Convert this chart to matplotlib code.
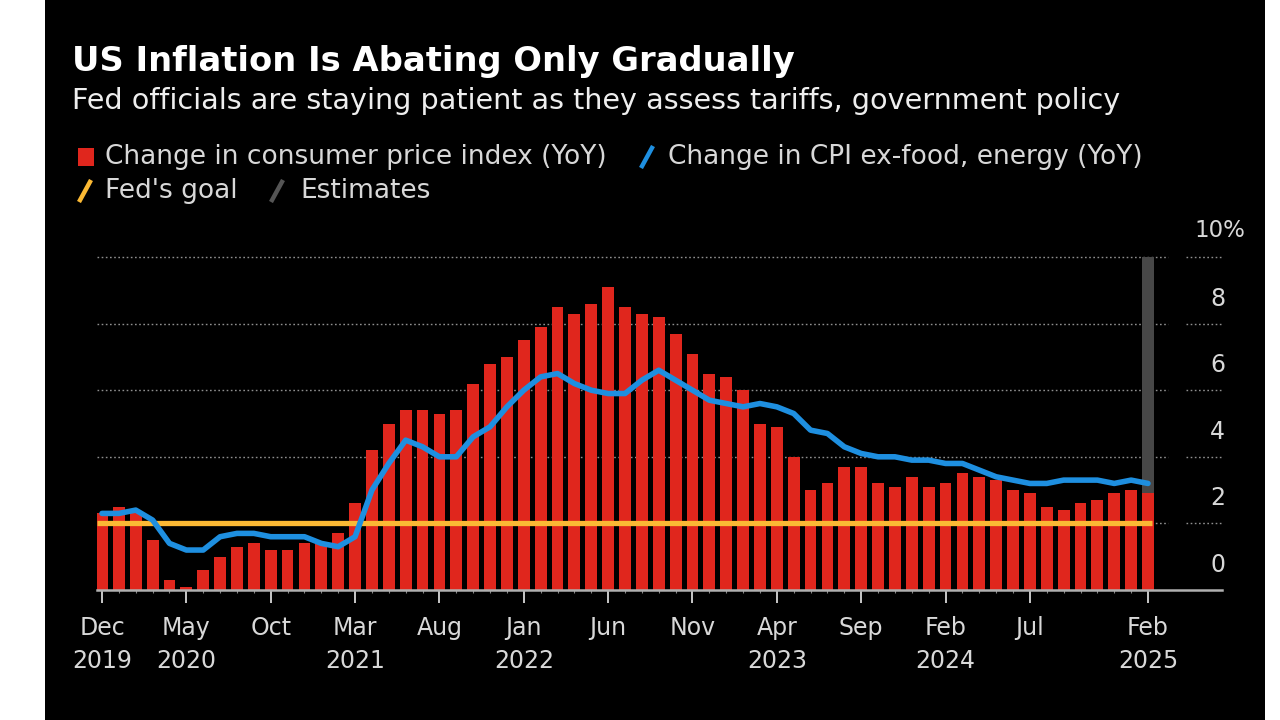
import matplotlib
matplotlib.use("Agg")
import matplotlib.pyplot as plt
import numpy as np
from matplotlib.patches import Rectangle
from matplotlib.lines import Line2D

# ---- data (Dec 2019 .. Feb 2025, monthly) ----
months = ["Dec 2019"] + [f"{m} {y}" for y in range(2020, 2025) for m in
          ["Jan", "Feb", "Mar", "Apr", "May", "Jun", "Jul", "Aug", "Sep", "Oct", "Nov", "Dec"]] + ["Jan 2025", "Feb 2025"]
cpi = [2.3,
       2.5, 2.3, 1.5, 0.3, 0.1, 0.6, 1.0, 1.3, 1.4, 1.2, 1.2, 1.4,
       1.4, 1.7, 2.6, 4.2, 5.0, 5.4, 5.4, 5.3, 5.4, 6.2, 6.8, 7.0,
       7.5, 7.9, 8.5, 8.3, 8.6, 9.1, 8.5, 8.3, 8.2, 7.7, 7.1, 6.5,
       6.4, 6.0, 5.0, 4.9, 4.0, 3.0, 3.2, 3.7, 3.7, 3.2, 3.1, 3.4,
       3.1, 3.2, 3.5, 3.4, 3.3, 3.0, 2.9, 2.5, 2.4, 2.6, 2.7, 2.9,
       3.0, 2.9]
core = [2.3,
        2.3, 2.4, 2.1, 1.4, 1.2, 1.2, 1.6, 1.7, 1.7, 1.6, 1.6, 1.6,
        1.4, 1.3, 1.6, 3.0, 3.8, 4.5, 4.3, 4.0, 4.0, 4.6, 4.9, 5.5,
        6.0, 6.4, 6.5, 6.2, 6.0, 5.9, 5.9, 6.3, 6.6, 6.3, 6.0, 5.7,
        5.6, 5.5, 5.6, 5.5, 5.3, 4.8, 4.7, 4.3, 4.1, 4.0, 4.0, 3.9,
        3.9, 3.8, 3.8, 3.6, 3.4, 3.3, 3.2, 3.2, 3.3, 3.3, 3.3, 3.2,
        3.3, 3.2]
fed_goal = 2.0
estimate_months = ["Feb 2025"]
estimate_top = 10.0
tick_months = ["Dec 2019", "May 2020", "Oct 2020", "Mar 2021", "Aug 2021", "Jan 2022",
               "Jun 2022", "Nov 2022", "Apr 2023", "Sep 2023", "Feb 2024", "Jul 2024", "Feb 2025"]
tick_labels = ["Dec\n2019", "May\n2020", "Oct", "Mar\n2021", "Aug", "Jan\n2022",
               "Jun", "Nov", "Apr\n2023", "Sep", "Feb\n2024", "Jul", "Feb\n2025"]
y_ticks = [0, 2, 4, 6, 8, 10]

RED = "#e0261d"
BLUE = "#1e8fe0"
YELLOW = "#fbb934"
GRAY = "#474747"
TXT = "#d8d8d8"

plt.rcParams['font.family'] = ['DejaVu Sans']

W, H = 1280, 720
fig = plt.figure(figsize=(12.8, 7.2), dpi=100, facecolor="white")
fig.patches.append(Rectangle((45 / W, 0), (1265 - 45) / W, 1, transform=fig.transFigure,
                             facecolor="black", edgecolor="none", zorder=-10))

x = np.arange(len(months))
idx = {m: i for i, m in enumerate(months)}

# axes geometry
ax_left, ax_right = 97, 1222
y0_px, y10_px = 590, 257
ymax = 10.3
ppu = (y0_px - y10_px) / 10.0
ax = fig.add_axes([ax_left / W, (H - y0_px) / H, (ax_right - ax_left) / W, ymax * ppu / H])
ax.set_facecolor("none")
ppm = (1148 - 102) / 62.0
xmin = -(102 - ax_left) / ppm
xmax = (ax_right - 102) / ppm
ax.set_xlim(xmin, xmax)
ax.set_ylim(0, ymax)

# gridlines (dotted), with break before labels
g_end = (1168 - 102) / ppm
g2_start = (1186 - 102) / ppm
for yv in y_ticks[1:]:
    ax.hlines(yv, xmin, g_end, colors="#8f8f8f", linestyles=(0, (1.2, 1.8)), linewidth=1.0, zorder=1)
    ax.hlines(yv, g2_start, xmax, colors="#8f8f8f", linestyles=(0, (1.2, 1.8)), linewidth=1.0, zorder=1)
for yv in y_ticks:
    if yv == 10:
        ax.text((1194 - 102) / ppm, yv + 0.8, "10%", ha="left", va="center", color=TXT, fontsize=16.5)
    else:
        ax.text((1225 - 102) / ppm, yv + 0.75, f"{yv}", ha="right", va="center", color=TXT, fontsize=17)

# estimates band
for m in estimate_months:
    ax.bar(idx[m], estimate_top, width=0.7, color=GRAY, zorder=2)

# bars
ax.bar(x, cpi, width=0.7, color=RED, zorder=3)

# Fed goal
ax.hlines(fed_goal, xmin, len(months) - 1 + 0.25, colors=YELLOW, linewidth=3.8, zorder=4)

# core line
ax.plot(x, core, color=BLUE, linewidth=4.0, solid_joinstyle="round", solid_capstyle="round", zorder=5)

# axes styling
for s in ["top", "right", "left"]:
    ax.spines[s].set_visible(False)
ax.spines["bottom"].set_color("#b0b0b0")
ax.spines["bottom"].set_linewidth(1.8)
ax.spines["bottom"].set_zorder(6)
ax.set_yticks([])
ax.set_xticks([idx[m] for m in tick_months])
ax.set_xticklabels(tick_labels, color=TXT, fontsize=17, linespacing=1.45)
ax.set_xticks(x, minor=True)
ax.tick_params(axis="x", which="major", length=9, width=1.4, color="#c8c8c8", pad=10)
ax.tick_params(axis="x", which="minor", length=2.5, width=0.8, color="#888888")

# title, subtitle, legend
fig.text(72 / W, 1 - 62 / H, "US Inflation Is Abating Only Gradually", color="white",
         fontsize=24.3, fontweight="bold", va="center", ha="left")
fig.text(72 / W, 1 - 101 / H, "Fed officials are staying patient as they assess tariffs, government policy",
         color="#eeeeee", fontsize=20.6, va="center", ha="left")

def leg_square(xp, yp, color):
    fig.patches.append(Rectangle((xp / W, 1 - (yp + 9) / H), 16 / W, 18 / H, transform=fig.transFigure,
                                 facecolor=color, edgecolor="none"))

def leg_slash(xp, yp, color):
    fig.lines.append(Line2D([(xp) / W, (xp + 12) / W], [1 - (yp + 11) / H, 1 - (yp - 11) / H],
                            transform=fig.transFigure, color=color, linewidth=3.2, solid_capstyle="butt"))

LFS = 19
leg_square(78, 157, RED)
fig.text(105 / W, 1 - 157 / H, "Change in consumer price index (YoY)", color=TXT, fontsize=LFS, va="center")
leg_slash(641, 157, BLUE)
fig.text(668 / W, 1 - 157 / H, "Change in CPI ex-food, energy (YoY)", color=TXT, fontsize=LFS, va="center")
leg_slash(79, 191, YELLOW)
fig.text(105 / W, 1 - 191 / H, "Fed's goal", color=TXT, fontsize=LFS, va="center")
leg_slash(271, 191, "#555555")
fig.text(300 / W, 1 - 191 / H, "Estimates", color=TXT, fontsize=LFS, va="center")

fig.savefig("out.png", dpi=100, facecolor="white")
